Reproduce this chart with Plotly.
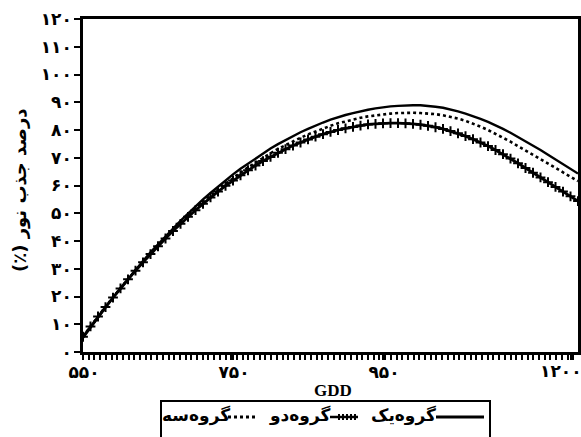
import plotly.graph_objects as go

# ---------------- data ----------------
gdd = list(range(550, 1211, 10))

group_one = [5.1, 8.8, 12.5, 16.1, 19.6, 23.0, 26.4, 29.6, 32.8, 35.9,
             38.8, 41.7, 44.6, 47.3, 49.9, 52.5, 55.0, 57.3, 59.6, 61.8,
             64.0, 66.0, 67.9, 69.8, 71.6, 73.3, 74.9, 76.4, 77.8, 79.2,
             80.4, 81.6, 82.7, 83.7, 84.6, 85.4, 86.1, 86.8, 87.3, 87.8,
             88.2, 88.5, 88.7, 88.9, 88.9, 88.9, 88.7, 88.4, 88.0, 87.4,
             86.7, 85.9, 85.0, 84.0, 82.9, 81.7, 80.4, 79.0, 77.5, 76.0,
             74.4, 72.8, 71.1, 69.4, 67.7, 66.0, 64.3]

group_two = [5.5, 9.2, 12.8, 16.2, 19.6, 22.9, 26.2, 29.3, 32.3, 35.3,
             38.1, 40.9, 43.6, 46.2, 48.7, 51.1, 53.4, 55.7, 57.8, 59.9,
             61.8, 63.7, 65.5, 67.2, 68.8, 70.3, 71.8, 73.1, 74.4, 75.5,
             76.6, 77.6, 78.5, 79.3, 80.0, 80.6, 81.1, 81.6, 82.0, 82.2,
             82.4, 82.5, 82.5, 82.4, 82.2, 81.9, 81.5, 81.0, 80.4, 79.6,
             78.8, 77.8, 76.7, 75.5, 74.2, 72.8, 71.3, 69.7, 68.0, 66.3,
             64.6, 62.9, 61.2, 59.5, 57.8, 56.1, 54.4]

group_three = [5.6, 9.3, 12.8, 16.3, 19.7, 23.1, 26.3, 29.4, 32.5, 35.5,
               38.4, 41.2, 43.9, 46.6, 49.1, 51.6, 54.0, 56.3, 58.5, 60.6,
               62.7, 64.6, 66.5, 68.3, 70.0, 71.6, 73.2, 74.6, 76.0, 77.2,
               78.4, 79.5, 80.6, 81.5, 82.4, 83.1, 83.8, 84.4, 84.9, 85.3,
               85.7, 85.9, 86.1, 86.2, 86.2, 86.1, 86.0, 85.7, 85.3, 84.8,
               84.1, 83.3, 82.3, 81.2, 80.0, 78.7, 77.3, 75.8, 74.2, 72.6,
               70.9, 69.3, 67.7, 66.1, 64.6, 63.1, 61.6]

series_names = ["گروه\u200cیک", "گروه\u200cدو", "گروه\u200cسه"]

x_tick_values = [550, 750, 950, 1200]
x_tick_labels = ["۵۵۰", "۷۵۰", "۹۵۰", "۱۲۰۰"]
y_tick_values = [0, 10, 20, 30, 40, 50, 60, 70, 80, 90, 100, 110, 120]
y_tick_labels = ["۰", "۱۰", "۲۰", "۳۰", "۴۰", "۵۰", "۶۰", "۷۰", "۸۰",
                 "۹۰", "۱۰۰", "۱۱۰", "۱۲۰"]

x_title = "GDD"
y_title = "\u200fدرصد جذب نور (٪)\u200f"

# ---------------- figure ----------------
W, H = 581, 437
ML, MR, MT, MB = 83, 3, 19, 85
PW, PH = W - ML - MR, H - MT - MB

def px(x):
    return (x - ML) / PW

def py(y):
    return (H - MB - y) / PH

ARAB = "DejaVu Sans"
TICKFONT = dict(family=ARAB, size=17, color="black", weight="bold")

# the last x label sits against the right edge: it is drawn as an
# annotation anchored on its tick value so it can be nudged inside
x_tick_text = list(x_tick_labels[:-1]) + [""]

fig = go.Figure()
fig.add_trace(go.Scatter(x=gdd, y=group_three, mode="lines", name=series_names[2],
                         line=dict(color="black", width=2.6, dash="dot")))
fig.add_trace(go.Scatter(x=gdd, y=group_two, mode="lines+markers", name=series_names[1],
                         line=dict(color="black", width=2.8),
                         marker=dict(symbol="cross-thin", size=7,
                                     line=dict(color="black", width=2))))
fig.add_trace(go.Scatter(x=gdd, y=group_one, mode="lines", name=series_names[0],
                         line=dict(color="black", width=2.4)))

fig.update_layout(
    width=W, height=H,
    margin=dict(l=ML, r=MR, t=MT, b=MB, autoexpand=False),
    paper_bgcolor="white", plot_bgcolor="white",
    showlegend=False,
    font=dict(family=ARAB, color="black", size=15),
)

fig.update_xaxes(
    range=[550, 1210], tickmode="array", tickvals=x_tick_values, ticktext=x_tick_text,
    showgrid=False, zeroline=False, showline=True, linecolor="black", linewidth=2.5,
    mirror=True, ticks="outside", ticklen=5, tickwidth=2, tickcolor="black",
    tickfont=TICKFONT, ticklabelshift=1, ticklabelstandoff=-2,
    minor=dict(ticks="outside", ticklen=5, tickwidth=2, tickcolor="black",
               tick0=550, dtick=7.6, showgrid=False),
    automargin=False,
)
fig.update_yaxes(
    range=[0, 120], tickmode="array", tickvals=y_tick_values, ticktext=y_tick_labels,
    showgrid=False, zeroline=False, showline=True, linecolor="black", linewidth=2.5,
    mirror=True, ticks="outside", ticklen=6, tickwidth=2, tickcolor="black",
    tickfont=TICKFONT, ticklabelstandoff=-1,
    automargin=False,
)

annotations = [
    dict(text=x_tick_labels[-1], xref="x", yref="paper", x=x_tick_values[-1], y=py(371),
         xanchor="center", yanchor="middle", xshift=-10, showarrow=False, font=TICKFONT),
    dict(text=x_title, xref="paper", yref="paper", x=px(333), y=py(391),
         xanchor="center", yanchor="middle", showarrow=False,
         font=dict(family="Liberation Serif", size=17, color="black", weight="bold")),
    dict(text=y_title, xref="paper", yref="paper", x=px(20), y=py(190), textangle=-90,
         xanchor="center", yanchor="middle", showarrow=False,
         font=dict(family=ARAB, size=18, color="black", weight="bold")),
]

# legend (right-to-left: text then its sample on the right)
leg_y = 415
leg_items = [
    (series_names[2], 196, (228, 255), "dot"),
    (series_names[1], 299, (330, 358), "hatch"),
    (series_names[0], 403, (436, 484), "solid"),
]
shapes = [dict(type="rect", xref="paper", yref="paper",
               x0=px(161), x1=px(490), y0=py(401), y1=py(445),
               line=dict(color="black", width=2), fillcolor="rgba(0,0,0,0)")]
for name, tx, (s0, s1), style in leg_items:
    annotations.append(dict(text=name, xref="paper", yref="paper", x=px(tx), y=py(leg_y),
                            xanchor="center", yanchor="middle", showarrow=False,
                            font=dict(family=ARAB, size=17, color="black", weight="bold")))
    ly = py(leg_y + 2)
    if style == "dot":
        shapes.append(dict(type="line", xref="paper", yref="paper", x0=px(s0), x1=px(s1),
                           y0=ly, y1=ly, line=dict(color="black", width=3, dash="dot")))
    elif style == "hatch":
        shapes.append(dict(type="line", xref="paper", yref="paper", x0=px(s0), x1=px(s1),
                           y0=ly, y1=ly, line=dict(color="black", width=2.5)))
        shapes.append(dict(type="line", xref="paper", yref="paper", x0=px(s0 + 8), x1=px(s1),
                           y0=ly, y1=ly, line=dict(color="black", width=6, dash="2px,2px")))
    else:
        shapes.append(dict(type="line", xref="paper", yref="paper", x0=px(s0), x1=px(s1),
                           y0=ly, y1=ly, line=dict(color="black", width=3)))

fig.update_layout(annotations=annotations, shapes=shapes)

fig.write_html("out.html", post_script="document.body.style.margin='0px';",
               config={"displayModeBar": False})
